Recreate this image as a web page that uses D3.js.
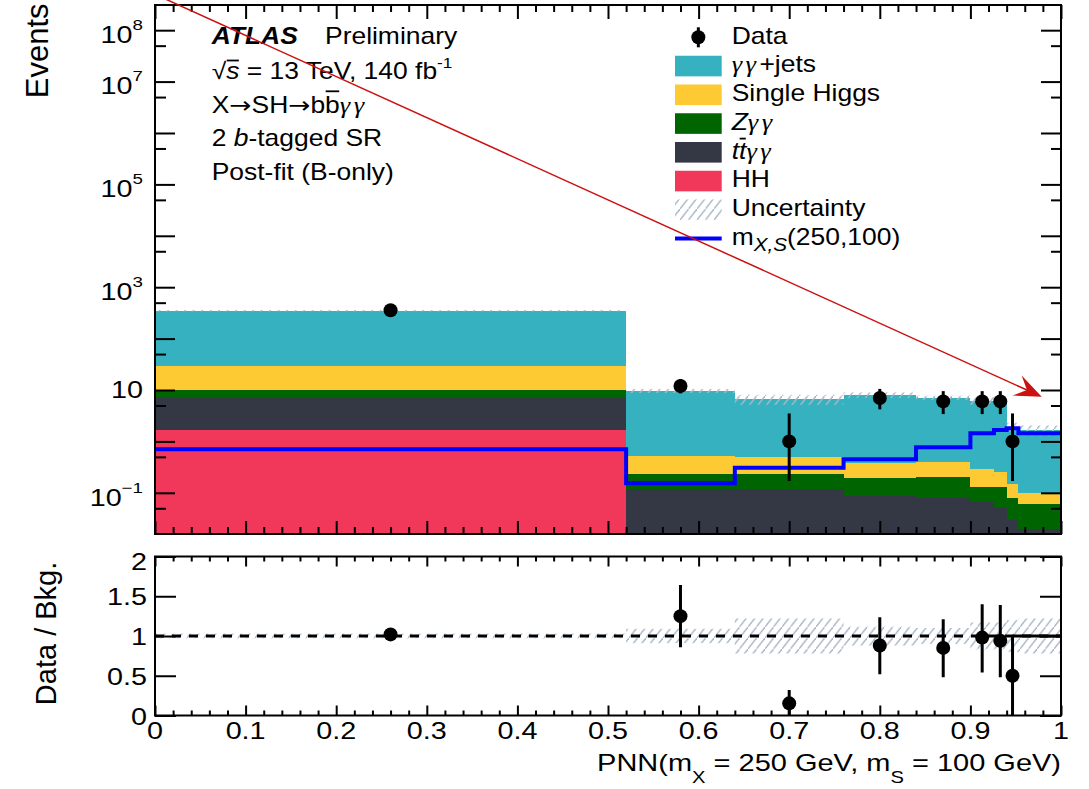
<!DOCTYPE html>
<html>
<head>
<meta charset="utf-8">
<script src="https://cdn.jsdelivr.net/npm/d3@7"></script>
<style>
  body { margin: 0; background: #fff; }
  svg { display: block; font-family: "Liberation Sans", Arial, Helvetica, sans-serif; }
</style>
</head>
<body>
<div id="chart"></div>
<script>
// PNN bin edges
const binEdges = [0, 0.52, 0.64, 0.76, 0.84, 0.90, 0.926, 0.94, 0.953, 1.0];

// post-fit background yields per bin, stacked bottom -> top
const hhYield      = [1.64, 0.005, 0.005, 0.004, 0.004, 0.003, 0.003, 0.002, 0.002];
const ttyyYield    = [5.26, 0.114, 0.114, 0.084, 0.076, 0.064, 0.047, 0.028, 0.018];
const zyyYield     = [3.1, 0.11, 0.11, 0.103, 0.126, 0.064, 0.081, 0.048, 0.040];
const singleHYield = [18.9, 0.29, 0.26, 0.184, 0.184, 0.155, 0.119, 0.070, 0.038];
const yyJetsYield  = [320, 9.08, 6.11, 7.625, 6.69, 5.91, 6.05, 1.78, 1.57];

// signal m_X,S(250,100)
const signalYield = [0.70, 0.153, 0.308, 0.449, 0.77, 1.44, 1.67, 1.80, 1.44];

// relative background uncertainty per bin
const bkgRelUnc = [0.03, 0.09, 0.22, 0.12, 0.10, 0.17, 0.17, 0.20, 0.22];

// data (first 8 bins)
const dataCounts  = [355, 12, 1, 7, 6, 6, 6, 1];
const dataErrLow  = [336, 8.6, 0.17, 4.2, 3.4, 3.4, 3.4, 0.17];
const dataErrHigh = [374, 16.3, 3.5, 10.5, 9.5, 9.5, 9.5, 3.5];

// data / bkg ratio
const ratioVals = [1.02, 1.25, 0.153, 0.88, 0.85, 0.98, 0.94, 0.50];
const ratioLow  = [0.97, 0.86, 0.0, 0.52, 0.48, 0.54, 0.48, 0.0];
const ratioHigh = [1.07, 1.64, 0.32, 1.235, 1.21, 1.40, 1.39, 1.0];

// tick labels
const xTickLabels = ["0", "0.1", "0.2", "0.3", "0.4", "0.5", "0.6", "0.7", "0.8", "0.9", "1"];
const yLabelExps = [8, 7, 5, 3, 1, -1];
const ratioTickLabels = ["0", "0.5", "1", "1.5", "2"];

const W = 1089, H = 789;
const fr = { left: 155, right: 1061, top: 5, bottom: 534 };
const rfr = { top: 556.5, bottom: 715.5 };

const colors = { hh: "#f2385a", tt: "#343844", z: "#006400", sh: "#fdca33", yy: "#36b1bf" };
const hatchColor = "#a9b8c7";

const x = d3.scaleLinear().domain([0, 1]).range([fr.left, fr.right]);
const yMin = 0.0158;
const y = d3.scaleLog().domain([yMin, 3.09e8]).range([fr.bottom, fr.top]);
const yr = d3.scaleLinear().domain([0, 2]).range([rfr.bottom, rfr.top]);

const svg = d3.select("#chart").append("svg").attr("width", W).attr("height", H);
const defs = svg.append("defs");

defs.append("clipPath").attr("id", "clipMain").append("rect")
    .attr("x", fr.left).attr("y", fr.top)
    .attr("width", fr.right - fr.left).attr("height", fr.bottom - fr.top);
defs.append("clipPath").attr("id", "clipRatio").append("rect")
    .attr("x", fr.left).attr("y", rfr.top)
    .attr("width", fr.right - fr.left).attr("height", rfr.bottom - rfr.top);

// hatch for the uncertainty band
const hw = 8.5, hh = 11;
defs.append("pattern").attr("id", "hatch")
    .attr("patternUnits", "userSpaceOnUse")
    .attr("width", hw).attr("height", hh)
  .append("path")
    .attr("d", `M${-1},${hh + hh / hw} L${hw + 1},${-hh / hw}`)
    .attr("stroke", hatchColor).attr("stroke-width", 1.4).attr("fill", "none");

// ---- rich text helper (ROOT-like wide Helvetica look via horizontal scale)
function richText(parent, px, py, parts, opt) {
  opt = opt || {};
  const fs = opt.size || 23, sx = opt.sx || 1.15;
  const g = parent.append("g").attr("transform", `translate(${px},${py}) scale(${sx},1)`);
  const t = g.append("text").attr("font-size", fs)
      .attr("text-anchor", opt.anchor || "start")
      .style("white-space", "pre").attr("fill", "#000");
  let shift = 0;
  parts.forEach(p => {
    const s = t.append("tspan").text(p.t);
    const want = p.dy || 0;
    if (want !== shift) { s.attr("dy", want - shift); shift = want; }
    if (p.size) s.attr("font-size", p.size);
    if (p.i) s.attr("font-style", "italic");
    if (p.b) s.attr("font-weight", "bold");
    if (p.f) s.attr("font-family", p.f);
    if (p.greek) s.attr("font-family", "'Liberation Serif', 'Times New Roman', serif")
                  .attr("font-style", "italic").attr("letter-spacing", 3);
  });
  // overlines
  let idx = 0;
  const node = t.node();
  parts.forEach(p => {
    const n = p.t.length;
    if (p.over !== undefined) {
      const a = node.getExtentOfChar(idx), b = node.getExtentOfChar(idx + n - 1);
      g.append("line")
        .attr("x1", a.x + 0.5).attr("x2", b.x + b.width - 0.5)
        .attr("y1", p.over).attr("y2", p.over)
        .attr("stroke", "#000").attr("stroke-width", 1.8);
    }
    idx += n;
  });
  return g;
}

// ---- bins
const bins = binEdges.slice(0, -1).map((lo, i) => ({
  lo, hi: binEdges[i + 1], mid: (lo + binEdges[i + 1]) / 2,
  hh: hhYield[i], tt: ttyyYield[i], z: zyyYield[i], sh: singleHYield[i], yy: yyJetsYield[i],
  unc: bkgRelUnc[i]
}));
bins.forEach(b => { b.total = b.hh + b.tt + b.z + b.sh + b.yy; });

const series = d3.stack().keys(["hh", "tt", "z", "sh", "yy"])(bins);

const main = svg.append("g").attr("clip-path", "url(#clipMain)");

main.selectAll("g.layer").data(series).join("g")
    .attr("class", "layer").attr("fill", d => colors[d.key])
  .selectAll("rect").data(d => d).join("rect")
    .attr("x", d => x(d.data.lo))
    .attr("width", d => x(d.data.hi) - x(d.data.lo))
    .attr("y", d => y(d[1]))
    .attr("height", d => y(Math.max(d[0], yMin)) - y(d[1]))
    .attr("shape-rendering", "crispEdges");

// uncertainty band
main.selectAll("rect.unc").data(bins).join("rect")
    .attr("class", "unc")
    .attr("x", d => x(d.lo)).attr("width", d => x(d.hi) - x(d.lo))
    .attr("y", d => y(d.total * (1 + d.unc)))
    .attr("height", d => y(d.total * (1 - d.unc)) - y(d.total * (1 + d.unc)))
    .attr("fill", "url(#hatch)");

// signal step line
const sigPts = bins.flatMap((b, i) => [[b.lo, signalYield[i]], [b.hi, signalYield[i]]]);
main.append("path").datum(sigPts)
    .attr("d", d3.line().x(d => x(d[0])).y(d => y(d[1])))
    .attr("fill", "none").attr("stroke", "#0000ff").attr("stroke-width", 4)
    .attr("stroke-linejoin", "miter");

// data points
const dataPts = dataCounts.map((v, i) => ({ x: bins[i].mid, v, lo: dataErrLow[i], hi: dataErrHigh[i] }));
main.selectAll("line.err").data(dataPts).join("line")
    .attr("x1", d => x(d.x)).attr("x2", d => x(d.x))
    .attr("y1", d => y(d.lo)).attr("y2", d => y(d.hi))
    .attr("stroke", "#000").attr("stroke-width", 3);
main.selectAll("circle.pt").data(dataPts).join("circle")
    .attr("cx", d => x(d.x)).attr("cy", d => y(d.v)).attr("r", 7).attr("fill", "#000");

// ---- ratio panel
const ratio = svg.append("g").attr("clip-path", "url(#clipRatio)");
ratio.selectAll("rect.unc").data(bins).join("rect")
    .attr("x", d => x(d.lo)).attr("width", d => x(d.hi) - x(d.lo))
    .attr("y", d => yr(1 + d.unc))
    .attr("height", d => yr(1 - d.unc) - yr(1 + d.unc))
    .attr("fill", "url(#hatch)");
ratio.append("line")
    .attr("x1", x(0)).attr("x2", x(1)).attr("y1", yr(1)).attr("y2", yr(1))
    .attr("stroke", "#000").attr("stroke-width", 3).attr("stroke-dasharray", "9,8");

const ratioPts = ratioVals.map((v, i) => ({ x: bins[i].mid, v, lo: ratioLow[i], hi: ratioHigh[i] }));
const lastPt = ratioPts[ratioPts.length - 1];
ratio.append("line")
    .attr("x1", x(lastPt.x)).attr("x2", x(1)).attr("y1", yr(1)).attr("y2", yr(1))
    .attr("stroke", "#000").attr("stroke-width", 3);
ratio.selectAll("line.err").data(ratioPts).join("line")
    .attr("x1", d => x(d.x)).attr("x2", d => x(d.x))
    .attr("y1", d => yr(d.lo)).attr("y2", d => yr(d.hi))
    .attr("stroke", "#000").attr("stroke-width", 3);
ratio.selectAll("circle").data(ratioPts).join("circle")
    .attr("cx", d => x(d.x)).attr("cy", d => yr(d.v)).attr("r", 7).attr("fill", "#000");

// ---- ticks
function tickSet(axisFn, scale, values, size, transform) {
  svg.append("g").attr("transform", transform)
    .call(axisFn(scale).tickValues(values).tickSize(size).tickFormat(""))
    .call(g => g.select(".domain").remove())
    .call(g => g.selectAll("line").attr("stroke", "#000").attr("stroke-width", 2));
}
const xMajor = d3.range(0, 11).map(i => i / 10);
const xMinor = d3.range(0, 51).map(i => i / 50).filter(v => Math.round(v * 50) % 5 !== 0);
const yMajor = d3.range(-1, 9).map(e => Math.pow(10, e));
const yMinor = d3.range(-2, 9).map(e => 5 * Math.pow(10, e)).filter(v => v > yMin && v < 3.09e8);
const rMajor = [0, 0.5, 1, 1.5, 2];

tickSet(d3.axisTop, x, xMajor, 13, `translate(0,${fr.bottom})`);
tickSet(d3.axisTop, x, xMinor, 7, `translate(0,${fr.bottom})`);
tickSet(d3.axisBottom, x, xMajor, 14, `translate(0,${fr.top})`);
tickSet(d3.axisBottom, x, xMinor, 7, `translate(0,${fr.top})`);
tickSet(d3.axisRight, y, yMajor, 20, `translate(${fr.left},0)`);
tickSet(d3.axisRight, y, yMinor, 11, `translate(${fr.left},0)`);
tickSet(d3.axisLeft, y, yMajor, 20, `translate(${fr.right},0)`);
tickSet(d3.axisLeft, y, yMinor, 10, `translate(${fr.right},0)`);

tickSet(d3.axisTop, x, xMajor, 10, `translate(0,${rfr.bottom})`);
tickSet(d3.axisTop, x, xMinor, 5, `translate(0,${rfr.bottom})`);
tickSet(d3.axisBottom, x, xMajor, 10, `translate(0,${rfr.top})`);
tickSet(d3.axisBottom, x, xMinor, 5, `translate(0,${rfr.top})`);
tickSet(d3.axisRight, yr, rMajor, 21, `translate(${fr.left},0)`);
tickSet(d3.axisLeft, yr, rMajor, 21, `translate(${fr.right},0)`);

// frames
[[fr.top, fr.bottom], [rfr.top, rfr.bottom]].forEach(([t, b]) => {
  svg.append("rect").attr("x", fr.left).attr("y", t)
     .attr("width", fr.right - fr.left).attr("height", b - t)
     .attr("fill", "none").attr("stroke", "#000").attr("stroke-width", 2);
});

// ---- tick labels
const numSx = 1.25;
xTickLabels.forEach((lab, i) => {
  richText(svg, x(xMajor[i]), 739, [{ t: lab }], { anchor: "middle", sx: numSx });
});
yLabelExps.forEach(e => {
  const yy = y(Math.pow(10, e));
  const parts = e === 1 ? [{ t: "10" }]
    : [{ t: "10" }, { t: e < 0 ? "\u2212" + (-e) : String(e), size: 15, dy: -13 }];
  richText(svg, 143, yy + (e === 1 ? 8.3 : 12.8), parts, { anchor: "end", sx: numSx });
});
ratioTickLabels.forEach((lab, i) => {
  const yy = yr(rMajor[i]);
  const base = Math.max(yy + 9, rfr.top + 13.5);
  richText(svg, 147, base, [{ t: lab }], { anchor: "end", sx: numSx });
});

// ---- axis titles
svg.append("text").attr("transform", "translate(47.5,3.5) rotate(-90)")
   .attr("text-anchor", "end").attr("font-size", 31).text("Events");
svg.append("text").attr("transform", "translate(56,561.7) rotate(-90)")
   .attr("text-anchor", "end").attr("font-size", 29).text("Data / Bkg.");
richText(svg, 1061, 771, [
  { t: "PNN(m" }, { t: "X", size: 16, dy: 12 }, { t: " = 250 GeV, m" },
  { t: "S", size: 16, dy: 12 }, { t: " = 100 GeV)" }
], { anchor: "end", sx: 1.26 });

// ---- ATLAS label block
const arrowFont = "'DejaVu Sans', sans-serif";
richText(svg, 211.7, 43.5, [{ t: "ATLAS", b: 1, i: 1 }]);
richText(svg, 325, 43.5, [{ t: "Preliminary" }]);
const infoLines = [
  [{ t: "\u221A" }, { t: "s", i: 1, over: -18.5 }, { t: " = 13 TeV, 140 fb" }, { t: "-1", size: 15, dy: -11 }],
  [{ t: "X" }, { t: "\u2192", f: arrowFont }, { t: "SH" }, { t: "\u2192", f: arrowFont }, { t: "b" },
   { t: "b", over: -22 }, { t: "\u03B3\u03B3", greek: 1 }],
  [{ t: "2 " }, { t: "b", i: 1 }, { t: "-tagged SR" }],
  [{ t: "Post-fit (B-only)" }]
];
const infoBase = [79, 113.3, 146, 180];
infoLines.forEach((parts, i) => richText(svg, 211.7, infoBase[i], parts));

// ---- legend
const legX = 675, legW = 46.7, legTextX = 731.7;
const legendEntries = [
  { kind: "data", parts: [{ t: "Data" }] },
  { kind: "box", color: colors.yy, parts: [{ t: "\u03B3\u03B3", greek: 1 }, { t: "+jets" }] },
  { kind: "box", color: colors.sh, parts: [{ t: "Single Higgs" }] },
  { kind: "box", color: colors.z, parts: [{ t: "Z", i: 1 }, { t: "\u03B3\u03B3", greek: 1 }] },
  { kind: "box", color: colors.tt, parts: [{ t: "t", i: 1 }, { t: "t", i: 1, over: -20 }, { t: "\u03B3\u03B3", greek: 1 }] },
  { kind: "box", color: colors.hh, parts: [{ t: "HH" }] },
  { kind: "hatch", parts: [{ t: "Uncertainty" }] },
  { kind: "line", parts: [{ t: "m" }, { t: "X,S", i: 1, size: 18, dy: 6 }, { t: "(250,100)" }] }
];
legendEntries.forEach((e, i) => {
  const cy = 37.3 + i * 28.75;
  if (e.kind === "data") {
    svg.append("line").attr("x1", legX + legW / 2).attr("x2", legX + legW / 2)
       .attr("y1", cy - 10).attr("y2", cy + 10).attr("stroke", "#000").attr("stroke-width", 3);
    svg.append("circle").attr("cx", legX + legW / 2).attr("cy", cy).attr("r", 7).attr("fill", "#000");
  } else if (e.kind === "box") {
    svg.append("rect").attr("x", legX).attr("y", cy - 10.3).attr("width", legW).attr("height", 20.6)
       .attr("fill", e.color);
  } else if (e.kind === "hatch") {
    svg.append("rect").attr("x", legX).attr("y", cy - 10.3).attr("width", legW).attr("height", 20.6)
       .attr("fill", "url(#hatch)");
  } else {
    svg.append("line").attr("x1", legX).attr("x2", legX + legW).attr("y1", cy).attr("y2", cy)
       .attr("stroke", "#0000ff").attr("stroke-width", 4);
  }
  richText(svg, legTextX, cy + 6.3, e.parts);
});

// ---- red arrow annotation
const arrowFrom = { x: 0.012, v: 4.0e8 }, arrowTo = { x: 0.9787, v: 7.4 };
const S = [x(arrowFrom.x), y(arrowFrom.v)], T = [x(arrowTo.x), y(arrowTo.v)];
const len = Math.hypot(T[0] - S[0], T[1] - S[1]);
const u = [(T[0] - S[0]) / len, (T[1] - S[1]) / len], nrm = [-u[1], u[0]];
const L = 27, hwid = 11;
const notch = [T[0] - 0.6 * L * u[0], T[1] - 0.6 * L * u[1]];
svg.append("line").attr("x1", S[0]).attr("y1", S[1]).attr("x2", notch[0]).attr("y2", notch[1])
   .attr("stroke", "#cc1111").attr("stroke-width", 1.5);
svg.append("path")
   .attr("d", d3.line()([
     T,
     [T[0] - L * u[0] + hwid * nrm[0], T[1] - L * u[1] + hwid * nrm[1]],
     notch,
     [T[0] - L * u[0] - hwid * nrm[0], T[1] - L * u[1] - hwid * nrm[1]]
   ]) + "Z")
   .attr("fill", "#cc1111");
</script>
</body>
</html>
